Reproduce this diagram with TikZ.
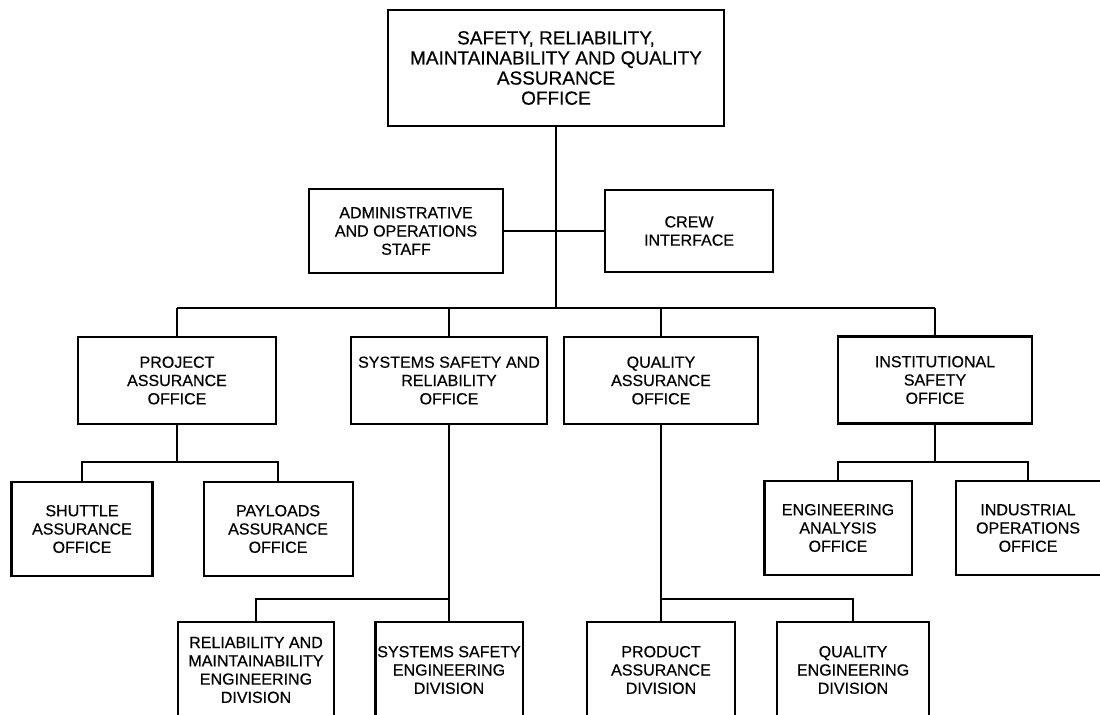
\documentclass[tikz,border=0pt]{standalone}
\usepackage{fontspec}
\setmainfont{Liberation Sans}[FakeBold=0.4]
\usepackage{tikz}
\tikzset{node distance=10em, auto}
\tikzset{office/.style={draw, align=center, inner sep=1pt, font=\fontsize{11.4}{13}\selectfont},
	head/.style={office, font=\fontsize{13.5}{14.3}\selectfont}}

\begin{document}
\begin{tikzpicture}[x=0.025cm, y=-0.025cm, line width=1.45pt]
	\useasboundingbox (0,0) rectangle (1100,715);
	\clip (0,0) rectangle (1100,715);
				\node (SRM) [head, minimum width=8.4cm, minimum height=2.9cm] at (556,68)
							{SAFETY, RELIABILITY,\\MAINTAINABILITY AND QUALITY\\ASSURANCE\\OFFICE};
				\node (Adm) [office, minimum width=4.85cm, minimum height=2.1cm] at (406,231)
							{ADMINISTRATIVE\\AND OPERATIONS\\STAFF};
				\node (Crew) [office, minimum width=4.2cm, minimum height=2.05cm, right of=Adm, node distance=7.075cm]
							{CREW\\INTERFACE};
				\node (PA) 	[office, minimum width=4.95cm, minimum height=2.175cm] at (177,380.5)
							{PROJECT\\ASSURANCE\\OFFICE};
				\node (SSR) [office, minimum width=4.9cm, minimum height=2.175cm] at (449,380.5)
							{SYSTEMS SAFETY AND\\RELIABILITY\\OFFICE};
				\node (QA) 	[office, minimum width=4.825cm, minimum height=2.175cm] at (661,380.5)
							{QUALITY\\ASSURANCE\\OFFICE};
				\node (IS) 	[office, minimum width=4.85cm, minimum height=2.175cm] at (935,380)
							{INSTITUTIONAL\\SAFETY\\OFFICE};
				\node (SA) 	[office, minimum width=3.525cm, minimum height=2.35cm] at (82,529)
							{SHUTTLE\\ASSURANCE\\OFFICE};
				\node (PLA) [office, minimum width=3.725cm, minimum height=2.35cm, right of=SA, node distance=4.9cm]
							{PAYLOADS\\ASSURANCE\\OFFICE};
				\node (EA) 	[office, minimum width=3.675cm, minimum height=2.35cm] at (838,528)
							{ENGINEERING\\ANALYSIS\\OFFICE};
				\node (IO) 	[office, minimum width=3.625cm, minimum height=2.35cm, right of=EA, node distance=4.75cm]
							{INDUSTRIAL\\OPERATIONS\\OFFICE};
				\node (RME) [office, minimum width=3.9cm, minimum height=2.4cm] at (256,670)
							{RELIABILITY AND\\MAINTAINABILITY\\ENGINEERING\\DIVISION};
				\node (SSE) [office, minimum width=3.675cm, minimum height=2.4cm] at (449,670)
							{SYSTEMS SAFETY\\ENGINEERING\\DIVISION};
				\node (PAD) [office, minimum width=3.7cm, minimum height=2.4cm] at (661,670)
							{PRODUCT\\ASSURANCE\\DIVISION};
				\node (QED) [office, minimum width=3.8cm, minimum height=2.4cm, right of=PAD, node distance=4.8cm]
							{QUALITY\\ENGINEERING\\DIVISION};
				\coordinate (B1) at (0,308);
				\coordinate (B2) at (0,462);
				\coordinate (B3) at (0,599);
			  \draw 	(SRM.south)		-- 	(SRM |- B1);
			  \draw 	(Adm.east)		-- 	(Crew.west);
			  \draw 	(PA |- B1)		-- 	(IS |- B1);
			  \draw 	(PA |- B1)		-- 	(PA.north);
			  \draw 	(SSR |- B1)		-- 	(SSR.north);
			  \draw 	(QA |- B1)		-- 	(QA.north);
			  \draw 	(IS |- B1)		-- 	(IS.north);
			  \draw 	(PA.south)		-- 	(PA |- B2);
			  \draw 	(SA.north)		|- 	(PA |- B2) -| (PLA.north);
			  \draw 	(IS.south)		-- 	(IS |- B2);
			  \draw 	(EA.north)		|- 	(IS |- B2) -| (IO.north);
			  \draw 	(SSR.south)		-- 	(SSE.north);
			  \draw 	(RME.north)		|- 	(SSR |- B3);
			  \draw 	(QA.south)		-- 	(PAD.north);
			  \draw 	(QA |- B3)		-| 	(QED.north);
\end{tikzpicture}
\end{document}
